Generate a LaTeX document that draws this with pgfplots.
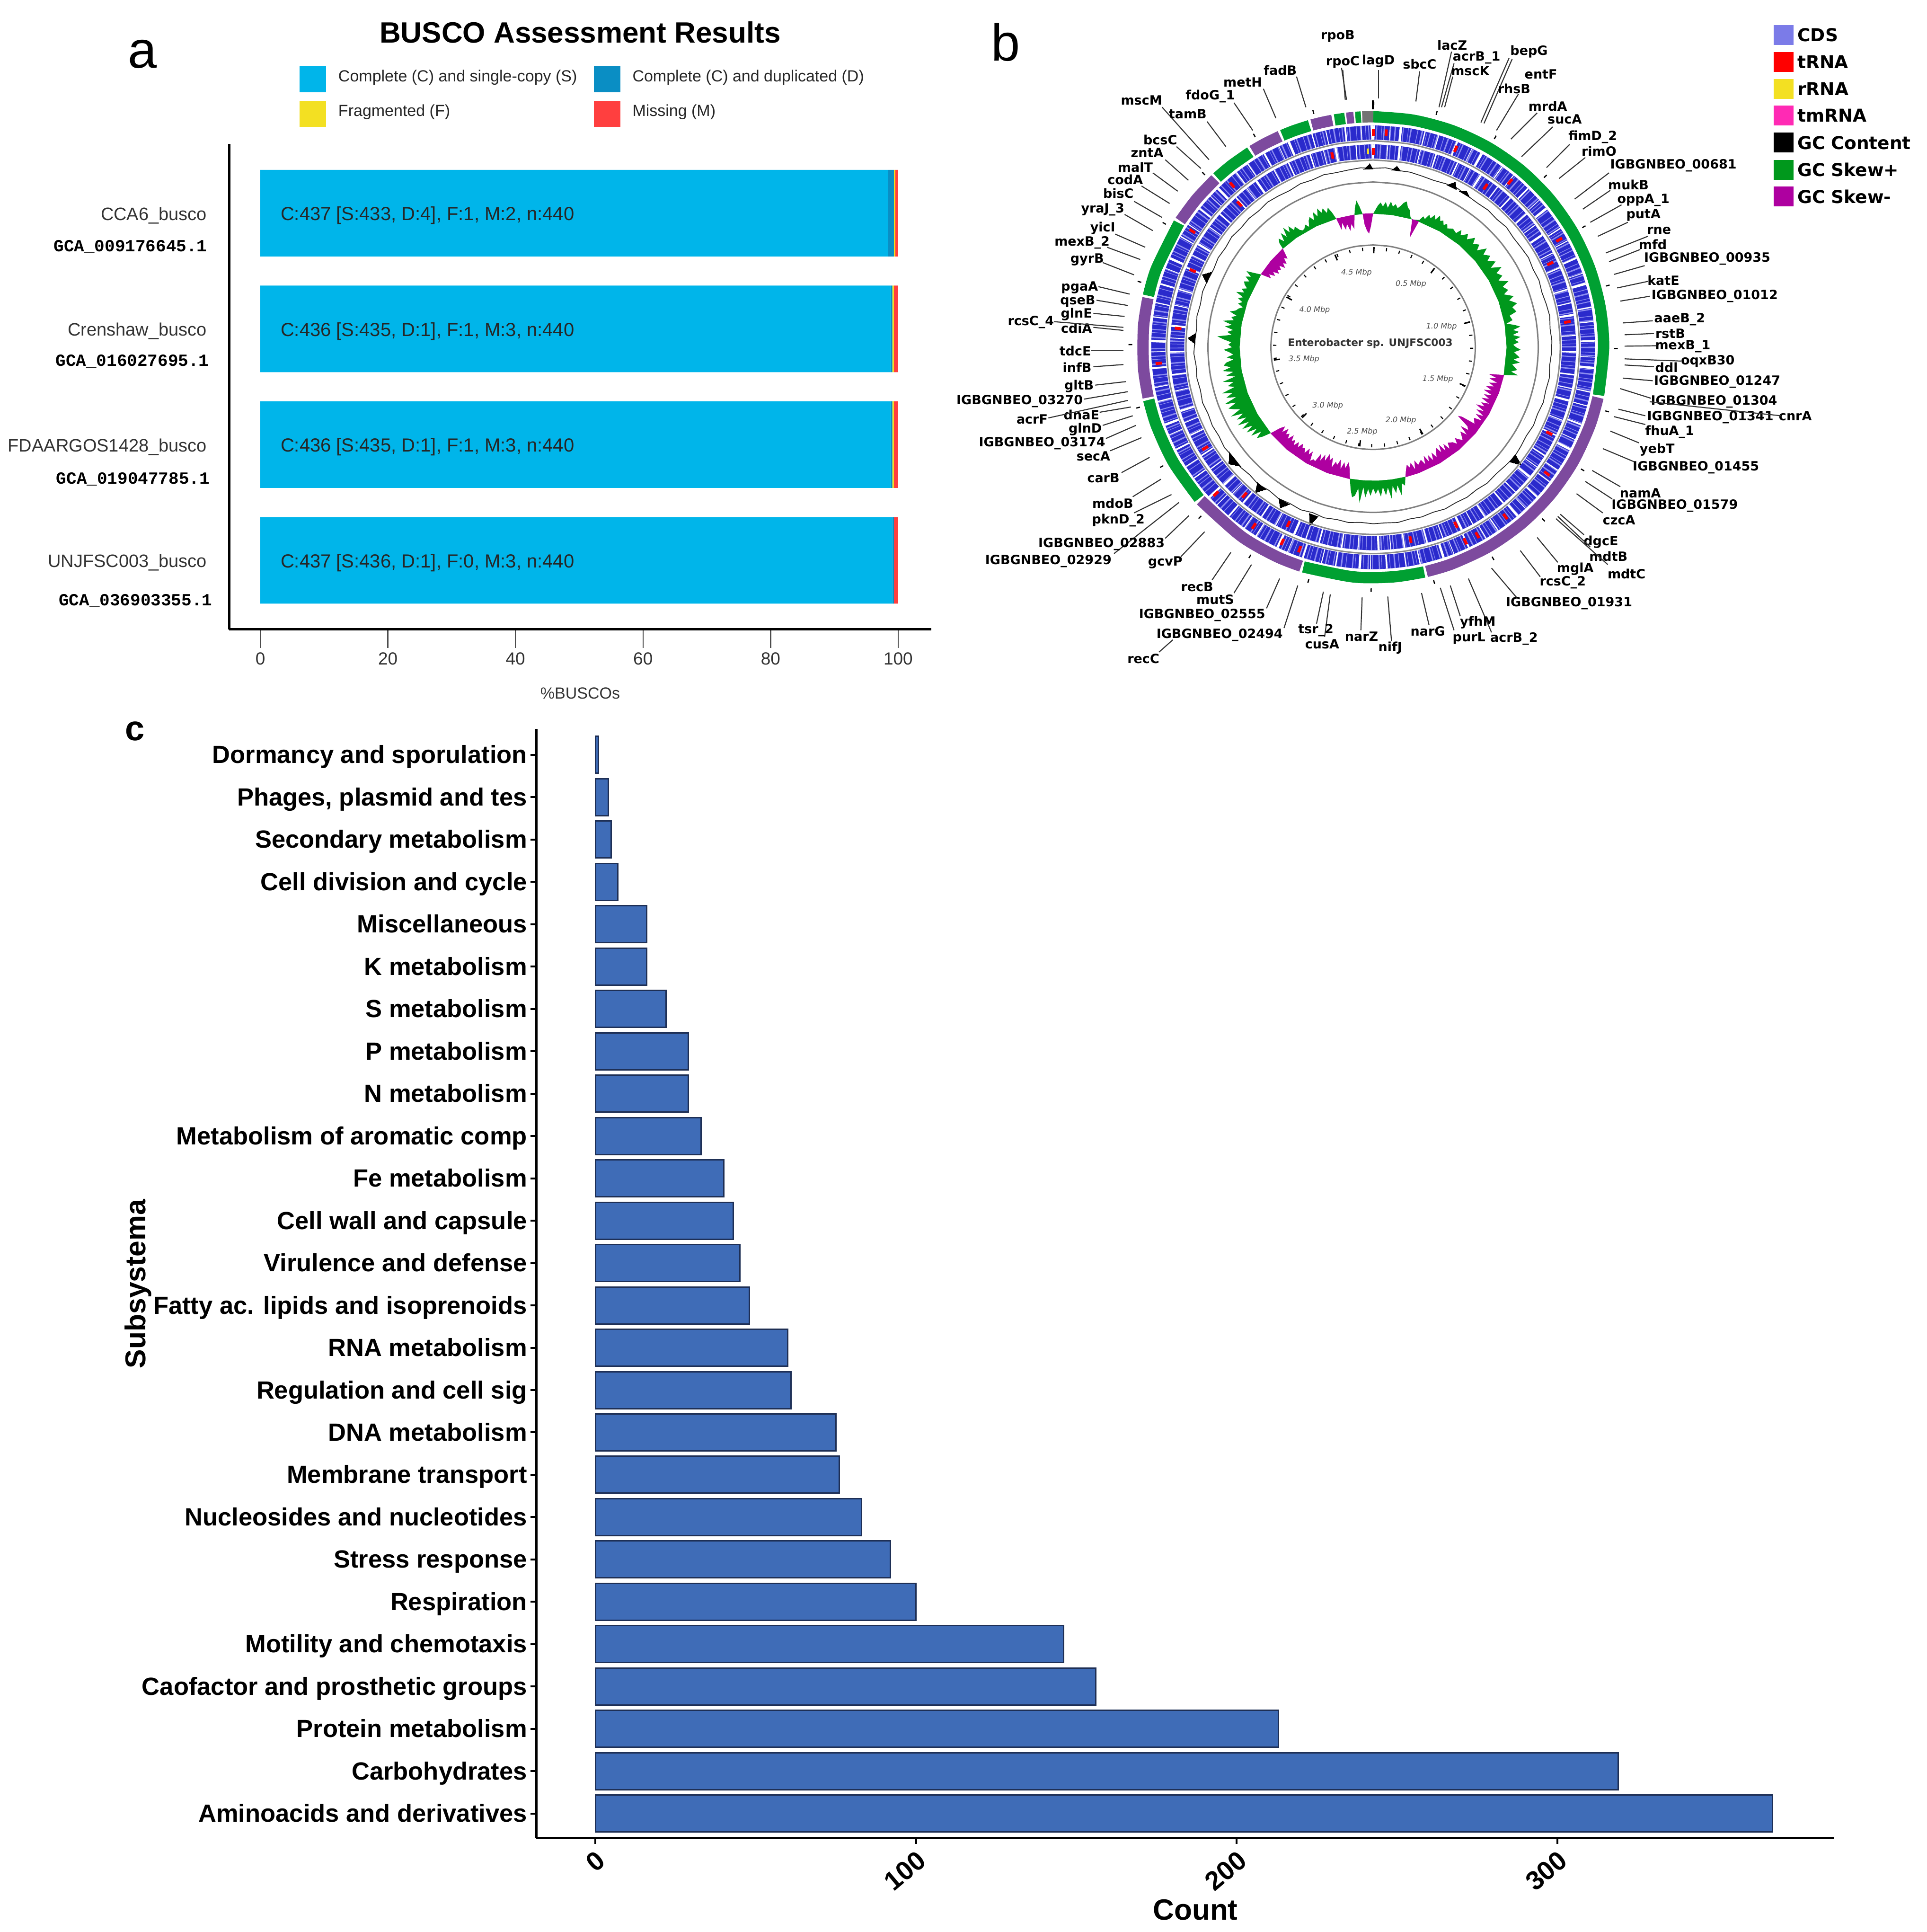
\documentclass[border=0pt]{standalone}
\usepackage{fontspec}
\usepackage{pgfplots}
\usepackage{pgfplotstable}
\pgfplotsset{compat=1.18}
\usepgfplotslibrary{polar}
\setmainfont{Liberation Sans}
\newfontfamily\dv{DejaVu Sans}
\newfontfamily\lmono{Liberation Mono}
\newcommand{\fs}[1]{\fontsize{#1}{#1}\selectfont}

\definecolor{buscoS}{HTML}{00B5EA}
\definecolor{buscoD}{HTML}{0A8EC4}
\definecolor{buscoF}{HTML}{F3E022}
\definecolor{buscoM}{HTML}{FF3F3F}
\definecolor{barblue}{HTML}{3F6CB7}
\definecolor{barline}{HTML}{1E2F55}
\definecolor{ringgreen}{HTML}{00A032}
\definecolor{ringpurple}{HTML}{7D4A9E}
\definecolor{skewgreen}{HTML}{00981C}
\definecolor{skewpurple}{HTML}{AE00A0}
\definecolor{cdsbase}{HTML}{7B7BE8}
\definecolor{cdsdark}{HTML}{2A2ACC}
\definecolor{cdslight}{HTML}{8C8CF0}
\definecolor{tmpink}{HTML}{FF2AB4}

\tikzset{
  bartext/.style={font=\fs{4},text=black!85,anchor=west,inner sep=0pt},
  gcatext/.style={font=\lmono\bfseries\fs{3.6},anchor=east,inner sep=0pt},
  genetext/.style={font=\dv\bfseries\fs{2.7},inner sep=0pt,anchor=center},
  outer/.style={line width=2.4pt,smooth},
}

% panel c
\pgfplotstableread{
pos count
1 367
2 319
3 213
4 156
5 146
6 100
7 92
8 83
9 76
10 75
11 61
12 60
13 48
14 45
15 43
16 40
17 33
18 29
19 29
20 22
21 16
22 16
23 7
24 5
25 4
26 1
}\subsys

% circles of panel b: clockwise angle, radii
\pgfplotstableread{
a c1 c2 g1 g2 g3 g4 t1 t2 t3
0 454 414 349 216 395.5 436 208 205 513
10 454 414 349 216 395.5 436 208 205 513
20 454 414 349 216 395.5 436 208 205 513
30 454 414 349 216 395.5 436 208 205 513
40 454 414 349 216 395.5 436 208 205 513
50 454 414 349 216 395.5 436 208 205 513
60 454 414 349 216 395.5 436 208 205 513
70 454 414 349 216 395.5 436 208 205 513
80 454 414 349 216 395.5 436 208 205 513
90 454 414 349 216 395.5 436 208 205 513
100 454 414 349 216 395.5 436 208 205 513
110 454 414 349 216 395.5 436 208 205 513
120 454 414 349 216 395.5 436 208 205 513
130 454 414 349 216 395.5 436 208 205 513
140 454 414 349 216 395.5 436 208 205 513
150 454 414 349 216 395.5 436 208 205 513
160 454 414 349 216 395.5 436 208 205 513
170 454 414 349 216 395.5 436 208 205 513
180 454 414 349 216 395.5 436 208 205 513
190 454 414 349 216 395.5 436 208 205 513
200 454 414 349 216 395.5 436 208 205 513
210 454 414 349 216 395.5 436 208 205 513
220 454 414 349 216 395.5 436 208 205 513
230 454 414 349 216 395.5 436 208 205 513
240 454 414 349 216 395.5 436 208 205 513
250 454 414 349 216 395.5 436 208 205 513
260 454 414 349 216 395.5 436 208 205 513
270 454 414 349 216 395.5 436 208 205 513
280 454 414 349 216 395.5 436 208 205 513
290 454 414 349 216 395.5 436 208 205 513
300 454 414 349 216 395.5 436 208 205 513
310 454 414 349 216 395.5 436 208 205 513
320 454 414 349 216 395.5 436 208 205 513
330 454 414 349 216 395.5 436 208 205 513
340 454 414 349 216 395.5 436 208 205 513
350 454 414 349 216 395.5 436 208 205 513
360 454 414 349 216 395.5 436 208 205 513
}\ringt

\newcommand{\redout}[1]{\addplot[red,line width=.6pt] coordinates {(#1,447) (#1,461)};}
\newcommand{\redin}[1]{\addplot[red,line width=.6pt] coordinates {(#1,407) (#1,421)};}
\newcommand{\gctri}[4]{\addplot[black,fill=black,line width=0pt] coordinates {(#1,376) (#2,#4) (#3,376)};}
% gene label with its leader line
\newcommand{\lab}[7]{\node[genetext] at (axis cs:#2,#3) {#1};
  \addplot[black!80,line width=.22pt] coordinates {(#4,#5) (#6,#7)};}
\newcommand{\mbp}[3]{\node[anchor=center,font=\dv\itshape\fs{1.6},text=black!70] at (axis cs:#2,#3) {#1 Mbp};}
\newcommand{\leg}[3]{\addplot[only marks,mark=square*,mark size=1.9pt,color=#1,mark options={draw=none}] coordinates {(1339,#3)};
  \node[anchor=west,font=\dv\bfseries\fs{3.75},inner sep=0pt] at (axis cs:1360,#3) {#2};}

\begin{document}
\begin{tikzpicture}
\path[use as bounding box] (0,0) rectangle (407.1pt,408.2pt);
\node[anchor=base,font=\fs{11}] at (30.1pt,393.8pt) {a};
\node[anchor=base,font=\fs{11}] at (212.5pt,395.3pt) {b};
\node[anchor=base,font=\bfseries\fs{7.4}] at (28.5pt,251.7pt) {c};

% panel a
\begin{axis}[
  at={(48.4pt,275.2pt)}, anchor=south west,
  scale only axis, width=148.4pt, height=102.6pt,
  xbar stacked, bar width=18.3pt,
  xmin=-4.9, xmax=105.2, ymin=0.403, ymax=4.599,
  axis x line=bottom, axis y line=left,
  axis line style={-,line width=.5pt},
  xtick={0,20,...,100}, ytick={1,2,3,4},
  yticklabels={UNJFSC003\_busco,FDAARGOS1428\_busco,Crenshaw\_busco,CCA6\_busco},
  tick align=outside, major tick length=3.9pt,
  xtick style={black!70,line width=.25pt}, ytick style={draw=none},
  /pgf/number format/assume math mode=true,
  xticklabel style={font=\fs{3.7},text=black!80,inner sep=.8pt},
  yticklabel style={font=\fs{3.8},text=black!80,inner xsep=.6pt,yshift=-.5pt},
  title={BUSCO Assessment Results},
  every axis title shift=0pt,
  title style={at={(0.5,1.23)},anchor=center,font=\bfseries\fs{6.2}},
  xlabel={\%BUSCOs},
  xlabel style={at={(0.5,-0.1316)},anchor=center,font=\fs{3.4},text=black!80},
  clip=false,
  legend columns=2,
  legend style={draw=none,fill=none,at={(0.1004,1.16)},anchor=north west,
    font=\fs{3.4},inner sep=0pt,outer sep=0pt,row sep=1.8pt,text=black!85,
    nodes={inner sep=0pt,outer sep=0pt},
    /tikz/every even column/.append style={column sep=3.5pt}},
  legend cell align=left,
  legend image code/.code={\fill[#1] (0pt,-2.75pt) rectangle (5.6pt,2.75pt);},
]
\addplot[fill=buscoS,draw=none] coordinates {(99.09,1) (98.86,2) (98.86,3) (98.41,4)};
\addplot[fill=buscoD,draw=none] coordinates {(0.23,1) (0.23,2) (0.23,3) (0.91,4)};
\addplot[fill=buscoF,draw=none] coordinates {(0,1) (0.23,2) (0.23,3) (0.23,4)};
\addplot[fill=buscoM,draw=none] coordinates {(0.68,1) (0.68,2) (0.68,3) (0.45,4)};
\legend{\hspace{2.6pt}Complete (C) and single-copy (S),\hspace{2.6pt}Complete (C) and duplicated (D),\hspace{2.6pt}Fragmented (F),\hspace{2.6pt}Missing (M)}
\node[gcatext] at (axis cs:-8.2,3.71) {GCA\_009176645.1};
\node[gcatext] at (axis cs:-7.9,2.72) {GCA\_016027695.1};
\node[gcatext] at (axis cs:-7.8,1.70) {GCA\_019047785.1};
\node[gcatext] at (axis cs:-7.4,0.65) {GCA\_036903355.1};
\end{axis}
\node[bartext] at (59.1pt,362.65pt) {C:437 [S:433, D:4], F:1, M:2, n:440};
\node[bartext] at (59.1pt,338.15pt) {C:436 [S:435, D:1], F:1, M:3, n:440};
\node[bartext] at (59.1pt,313.75pt) {C:436 [S:435, D:1], F:1, M:3, n:440};
\node[bartext] at (59.1pt,289.3pt) {C:437 [S:436, D:1], F:0, M:3, n:440};

% panel b, rings
\begin{polaraxis}[
  at={(290.15pt,334.83pt)}, anchor=center,
  scale only axis, width=120pt, height=120pt,
  xmin=0, xmax=360, ymin=0, ymax=600,
  hide axis, clip=false,
  x filter/.expression={90-x},
]
% GC skew of the inner track
\addplot[fill=skewgreen,draw=none] coordinates {
(0,282)(2,300)(3,306)(4,298)(5,308)(6,296)(7,310)(8,300)(9,306)(10,298)(11,304)(12,312)(13,316)(14,304)(15,300)(16,286)(17,282)(20,286)
(21,296)(22,292)(23,304)(24,298)(25,308)(26,300)(27,312)(28,302)(29,306)(30,298)(31,304)(32,296)(34,302)(36,298)(37,310)(38,300)
(40,312)(41,302)(43,316)(44,304)(46,312)(47,300)(49,318)(50,304)(52,314)(53,302)(55,316)(56,300)(58,320)(59,304)(61,312)(62,300)
(64,318)(65,302)(67,310)(68,298)(70,316)(71,304)(73,318)(74,306)(76,312)(77,296)(79,300)(80,286)(81,302)(82,314)(83,298)(84,310)
(85,296)(86,312)(87,300)(88,308)(89,296)(90,302)(91,312)(92,298)(94,310)(95,298)(96,312)(97,296)(99,308)(100,296)(101,312)(102,282)
(110,282)(120,282)(130,282)(140,282)(150,282)(160,282)
(166,282)(167,300)(168,294)(169,320)(170,296)(171,312)(172,296)(173,322)(174,298)(175,314)(176,296)(177,316)(178,300)(179,310)(180,298)(181,314)
(182,300)(183,318)(184,296)(185,330)(186,300)(187,316)(188,320)(189,304)(190,282)
(200,282)(210,282)(220,282)(230,282)
(231,300)(232,312)(233,296)(234,318)(235,300)(236,322)(237,304)(238,326)(239,306)(240,330)(241,306)(242,326)(243,308)(244,334)(245,310)(246,322)
(247,332)(248,312)(249,336)(250,308)(251,328)(252,312)(253,334)(254,304)(255,318)(256,304)(257,326)(258,298)(259,316)(260,300)(261,322)(262,304)
(263,318)(264,312)(265,296)(266,310)(267,296)(268,304)(269,316)(270,298)(271,306)(272,300)(273,316)(274,330)(275,300)(276,310)(277,298)(278,316)
(279,302)(280,322)(281,300)(282,306)(283,296)(284,312)(285,300)(286,296)(287,288)(288,300)(289,292)(290,304)(291,294)(292,312)(293,296)(294,304)
(295,294)(296,302)(297,306)(298,296)(299,308)(300,298)(301,312)(302,296)(303,282)
(310,282)(317.5,282)
(318,296)(319,304)(320,292)(321,310)(322,296)(323,316)(324,300)(325,312)(326,298)(327,304)(328,292)(329,288)(330,290)(331,296)(332,288)(333,300)
(334,306)(335,296)(336,312)(337,300)(338,316)(339,304)(340,312)(341,300)(342,310)(343,298)(344,282)
(348,282)(352,282)(352.5,296)(353.5,312)(354.5,298)(355.5,282)(360,282)};
\addplot[fill=skewpurple,draw=none] coordinates {(102,0)(102,283)(110,283)(120,283)(130,283)(140,283)(150,283)(160,283)(166,283)(166,0)};
\addplot[fill=skewpurple,draw=none] coordinates {(190,0)(190,283)(200,283)(210,283)(220,283)(230,283)(230,0)};
\addplot[fill=skewpurple,draw=none] coordinates {(303,0)(303,283)(310,283)(317.5,283)(317.5,0)};
\addplot[fill=skewpurple,draw=none] coordinates {(344,0)(344,283)(352,283)(352,0)};
\addplot[fill=skewpurple,draw=none] coordinates {(355.5,0)(355.5,283)(360,283)(360,0)};
\addplot[fill=skewpurple,draw=none] coordinates {(17,0)(17,283)(20,283)(20,0)};
\addplot[fill=white,draw=none] coordinates {
(0,282)(8,282)(16,282)(17,282)(18.5,243)(20,282)(30,282)(40,282)(50,282)(60,282)(70,282)(80,282)(90,282)(102,282)
(103,250)(104,268)(105,254)(106,272)(107,256)(108,268)(109,252)(110,266)(111,250)(112,270)(113,254)(114,268)(115,252)(116,272)(117,256)(118,266)
(119,248)(120,270)(121,254)(122,274)(123,258)(124,276)(125,260)(127,268)(128,238)(129,230)(130,260)(131,266)(132,248)(133,270)(134,256)(135,264)
(136,272)(137,266)(138,258)(139,270)(140,262)(142,256)(143,268)(144,252)(145,266)(146,248)(147,264)(148,250)(150,268)(151,254)(152,270)(153,256)
(154,268)(155,252)(156,270)(157,258)(159,266)(160,254)(161,272)(162,256)(163,266)(164,258)(165,268)(166,282)
(172,282)(178,282)(184,282)(190,282)
(191,260)(192,248)(193,262)(194,250)(195,266)(196,246)(197,260)(198,254)(199,268)(200,248)(201,256)(202,242)(203,260)(204,248)(205,264)(206,250)
(207,270)(208,268)(209,274)(210,254)(211,264)(212,252)(213,266)(214,256)(215,260)(216,252)(217,264)(218,254)(219,266)(220,256)(221,262)(222,250)
(223,264)(224,254)(225,260)(226,248)(227,262)(228,250)(229,260)(230,282)
(240,282)(250,282)(260,282)(270,282)(280,282)(290,282)(303,282)
(304,260)(305,268)(306,256)(307,264)(308,252)(309,260)(310,254)(311,262)(312,250)(313,260)(314,254)(315,266)(316,260)(317.5,282)
(325,282)(335,282)(344,282)
(345,256)(346,270)(347,254)(348,266)(349,250)(350,264)(351,252)(352,282)(355.5,282)
(356,260)(357,246)(358,240)(359,256)(360,282)};
\addplot[black!50,line width=.3pt,smooth] table[x=a,y=g2] {\ringt};
\addplot[black,line width=.7pt,dash pattern=on .22pt off 2.51pt,smooth] table[x=a,y=t1] {\ringt};
\addplot[black,line width=1.3pt,dash pattern=on .3pt off 13.1pt,smooth] table[x=a,y=t2] {\ringt};
% GC content
\addplot[black!50,line width=.3pt,smooth] table[x=a,y=g1] {\ringt};
\addplot[black!85,line width=.17pt] coordinates {
(0,378)(4,380)(8,377)(12,378)(16,376)(20,375)(24,378)(28,380)(32,377)(36,376)(40,378)(44,376)(48,379)(52,376)(56,377)(60,379)(64,376)(68,378)
(72,375)(76,377)(80,379)(84,376)(88,378)(92,377)(96,375)(100,378)(104,376)(108,378)(112,375)(116,377)(120,374)(124,376)(128,378)(132,375)
(136,373)(140,375)(144,372)(148,374)(152,372)(156,374)(160,371)(164,373)(168,371)(172,374)(176,372)(180,373)(184,371)(188,374)(192,372)(196,375)
(200,372)(204,376)(208,374)(212,377)(216,374)(220,378)(224,375)(228,378)(232,376)(236,379)(240,376)(244,378)(248,376)(252,379)(256,376)(260,378)
(264,376)(268,379)(272,377)(276,375)(280,378)(284,376)(288,379)(292,377)(296,375)(300,378)(304,376)(308,379)(312,376)(316,378)(320,376)(324,379)
(328,377)(332,375)(336,378)(340,376)(344,379)(348,377)(352,378)(356,380)(360,378)};
\gctri{24.5}{26.5}{28}{390}\gctri{29}{31}{33}{384}\gctri{127}{128.5}{130}{402}
\gctri{198}{199.5}{201}{400}\gctri{208}{210}{212}{392}\gctri{217}{219}{220.5}{396}
\gctri{228}{231}{234}{392}\gctri{271}{272.8}{274.5}{392}\gctri{291}{293}{295}{392}
\gctri{-3}{-1}{0}{388}\gctri{6}{7.5}{9}{386}
% CDS tracks
\addplot[black!45,line width=.3pt,smooth] table[x=a,y=g3] {\ringt};
\addplot[black!45,line width=.3pt,smooth] table[x=a,y=g4] {\ringt};
\addplot[cdsdark,line width=3pt,smooth] table[x=a,y=c1] {\ringt};
\addplot[cdslight,line width=3pt,smooth,dash pattern=on .12pt off .5pt on .2pt off .9pt on .1pt off .35pt on .25pt off 1.2pt on .14pt off .7pt on .3pt off .8pt] table[x=a,y=c1] {\ringt};
\addplot[white,line width=3pt,smooth,dash pattern=on .35pt off 3.1pt on .15pt off 1.9pt on .5pt off 4.6pt on .25pt off 2.7pt on .2pt off 3.7pt] table[x=a,y=c1] {\ringt};
\addplot[cdsdark,line width=3pt,smooth] table[x=a,y=c2] {\ringt};
\addplot[cdslight,line width=3pt,smooth,dash pattern=on .16pt off .7pt on .1pt off .4pt on .28pt off 1.1pt on .12pt off .55pt on .22pt off .9pt] table[x=a,y=c2] {\ringt};
\addplot[white,line width=3pt,smooth,dash pattern=on .3pt off 2.6pt on .18pt off 2.2pt on .45pt off 3.9pt on .2pt off 3.1pt on .3pt off 4.4pt] table[x=a,y=c2] {\ringt};
\redout{0}\redout{3.5}\redout{22.6}\redout{39.6}\redout{60}\redout{126}\redout{142}\redout{151}\redout{154.6}
\redout{200}\redout{205}\redout{213.7}\redout{227}\redout{265.7}\redout{302.7}\redout{319}
\redin{0}\redin{35}\redin{64.7}\redin{82.6}\redin{116}\redin{155}\redin{169}\redin{205.6}\redin{221}\redin{239}
\redin{275.5}\redin{293}\redin{317}\redin{348}
\addplot[buscoF,line width=.4pt] coordinates {(358.5,408) (358.5,420)};
% outer GC skew track
\addplot[ringgreen,outer] coordinates {(0,487)(10,487)(20,487)(30,487)(40,487)(50,487)(60,487)(70,487)(80,487)(90,487)(102,487)};
\addplot[ringpurple,outer] coordinates {(102.6,487)(110,487)(120,487)(130,487)(140,487)(150,487)(160,487)(166.6,487)};
\addplot[ringgreen,outer] coordinates {(167.2,487)(175,487)(185,487)(197.6,487)};
\addplot[ringpurple,outer] coordinates {(198.2,487)(205,487)(215,487)(228.4,487)};
\addplot[ringgreen,outer] coordinates {(229,487)(240,487)(250,487)(256.8,487)};
\addplot[ringpurple,outer] coordinates {(257.4,487)(265,487)(275,487)(282.3,487)};
\addplot[ringgreen,outer] coordinates {(282.9,487)(290,487)(302.6,487)};
\addplot[ringpurple,outer] coordinates {(303.2,487)(310,487)(316.8,487)};
\addplot[ringgreen,outer] coordinates {(317.4,487)(322,487)(327.8,487)};
\addplot[ringpurple,outer] coordinates {(328.4,487)(332,487)(336.2,487)};
\addplot[ringgreen,outer] coordinates {(336.8,487)(340,487)(344,487)};
\addplot[ringpurple,outer] coordinates {(344.6,487)(347,487)(349.8,487)};
\addplot[ringgreen,outer] coordinates {(350.4,487)(353,487)};
\addplot[ringpurple,outer] coordinates {(353.4,487)(355.2,487)};
\addplot[ringgreen,outer] coordinates {(355.6,487)(357,487)};
\addplot[black!55,outer] coordinates {(357.3,487)(358.6,487)(360,487)};
\addplot[black,line width=.8pt,dash pattern=on .25pt off 13.2pt,smooth] table[x=a,y=t3] {\ringt};
\addplot[black,line width=.5pt] coordinates {(0,503) (0,522)};
\end{polaraxis}

% panel b, labels and leader lines
\begin{axis}[
  at={(200pt,263.2pt)}, anchor=south west,
  scale only axis, width=207.1pt, height=145pt,
  xmin=0, xmax=1568, ymin=0, ymax=1568, y dir=reverse,
  hide axis, clip=false,
]
\lab{rpoB}{626}{83}{632}{155}{640}{228}
\lab{rpoC}{634}{142}{634}{160}{638}{228}
\lab{lagD}{691}{140}{691}{160}{691}{225}
\lab{sbcC}{757}{147}{757}{163}{751}{232}
\lab{lacZ}{809}{103}{808}{118}{788}{245}
\lab{acrB\_1}{848}{132}{812}{145}{792}{245}
\lab{mscK}{838}{162}{810}{175}{797}{245}
\lab{bepG}{932}{118}{900}{133}{855}{280}
\lab{entF}{951}{170}{905}{135}{860}{282}
\lab{rhsB}{908}{203}{915}{215}{880}{298}
\lab{mrdA}{962}{243}{945}{258}{903}{318}
\lab{sucA}{989}{272}{970}{290}{920}{358}
\lab{fimD\_2}{1034}{313}{997}{330}{960}{383}
\lab{rimO}{1044}{346}{1022}{360}{980}{408}
\lab{IGBGNBEO\_00681}{1163}{378}{1060}{395}{1005}{455}
\lab{mukB}{1091}{422}{1062}{435}{1018}{478}
\lab{oppA\_1}{1115}{457}{1080}{468}{1030}{508}
\lab{putA}{1115}{492}{1090}{508}{1042}{540}
\lab{rne}{1140}{527}{1122}{540}{1055}{578}
\lab{mfd}{1130}{559}{1110}{570}{1060}{598}
\lab{IGBGNBEO\_00935}{1217}{591}{1117}{607}{1068}{627}
\lab{katE}{1147}{641}{1122}{643}{1073}{658}
\lab{IGBGNBEO\_01012}{1229}{677}{1125}{677}{1078}{688}
\lab{aaeB\_2}{1173}{730}{1130}{733}{1082}{738}
\lab{rstB}{1158}{762}{1132}{762}{1085}{765}
\lab{mexB\_1}{1178}{791}{1135}{790}{1085}{791}
\lab{oqxB30}{1218}{826}{1175}{825}{1085}{820}
\lab{ddl}{1152}{840}{1132}{838}{1085}{834}
\lab{IGBGNBEO\_01247}{1233}{872}{1130}{870}{1082}{864}
\lab{IGBGNBEO\_01304}{1228}{918}{1127}{910}{1078}{888}
\lab{IGBGNBEO\_01341}{1222}{953}{1118}{950}{1075}{935}
\lab{cnrA}{1358}{950}{1335}{950}{1125}{918}
\lab{fhuA\_1}{1157}{987}{1118}{970}{1068}{952}
\lab{yebT}{1137}{1028}{1108}{1012}{1062}{985}
\lab{IGBGNBEO\_01455}{1199}{1068}{1100}{1055}{1050}{1025}
\lab{namA}{1110}{1127}{1078}{1112}{1033}{1075}
\lab{IGBGNBEO\_01579}{1165}{1156}{1065}{1140}{1022}{1100}
\lab{czcA}{1076}{1188}{1050}{1172}{1008}{1128}
\lab{dgcE}{1047}{1238}{1020}{1222}{982}{1175}
\lab{mdtB}{1059}{1271}{1030}{1250}{978}{1180}
\lab{mdtC}{1088}{1311}{1058}{1290}{975}{1185}
\lab{mglA}{1006}{1300}{978}{1285}{945}{1228}
\lab{rcsC\_2}{986}{1331}{950}{1318}{918}{1258}
\lab{IGBGNBEO\_01931}{996}{1378}{912}{1365}{872}{1298}
\lab{acrB\_2}{908}{1460}{872}{1445}{835}{1322}
\lab{yfhM}{850}{1422}{822}{1408}{806}{1338}
\lab{purL}{836}{1458}{812}{1440}{790}{1343}
\lab{narG}{770}{1442}{772}{1428}{760}{1355}
\lab{nifJ}{710}{1480}{712}{1465}{706}{1363}
\lab{narZ}{664}{1454}{663}{1440}{665}{1365}
\lab{cusA}{601}{1472}{605}{1455}{614}{1358}
\lab{tsr\_2}{591}{1440}{592}{1425}{603}{1352}
\lab{recC}{315}{1505}{340}{1490}{362}{1462}
\lab{IGBGNBEO\_02494}{437}{1451}{540}{1435}{562}{1338}
\lab{IGBGNBEO\_02555}{409}{1405}{512}{1390}{533}{1322}
\lab{mutS}{430}{1370}{460}{1355}{488}{1290}
\lab{recB}{401}{1341}{425}{1325}{455}{1262}
\lab{gcvP}{350}{1285}{375}{1272}{413}{1215}
\lab{IGBGNBEO\_02929}{163}{1282}{268}{1265}{372}{1148}
\lab{IGBGNBEO\_02883}{248}{1243}{350}{1230}{388}{1178}
\lab{pknD\_2}{275}{1189}{300}{1172}{360}{1130}
\lab{mdoB}{266}{1150}{298}{1135}{343}{1095}
\lab{carB}{251}{1092}{280}{1080}{325}{1045}
\lab{secA}{235}{1042}{262}{1030}{312}{1000}
\lab{IGBGNBEO\_03174}{153}{1013}{255}{1002}{303}{972}
\lab{glnD}{222}{981}{250}{972}{298}{950}
\lab{dnaE}{216}{948}{245}{942}{295}{930}
\lab{acrF}{137}{958}{163}{955}{290}{915}
\lab{IGBGNBEO\_03270}{117}{917}{220}{912}{290}{895}
\lab{gltB}{212}{883}{238}{880}{287}{872}
\lab{infB}{209}{840}{235}{838}{283}{833}
\lab{tdcE}{206}{802}{232}{800}{283}{800}
\lab{cdiA}{208}{750}{235}{748}{283}{755}
\lab{rcsC\_4}{135}{736}{172}{735}{283}{748}
\lab{glnE}{208}{718}{235}{716}{285}{723}
\lab{qseB}{210}{688}{240}{686}{290}{698}
\lab{pgaA}{213}{657}{243}{655}{293}{672}
\lab{gyrB}{225}{593}{250}{600}{300}{628}
\lab{mexB\_2}{217}{554}{257}{565}{310}{593}
\lab{yicI}{250}{522}{270}{535}{318}{565}
\lab{yraJ\_3}{250}{479}{285}{490}{330}{527}
\lab{bisC}{275}{442}{300}{460}{345}{497}
\lab{codA}{286}{410}{312}{425}{357}{465}
\lab{malT}{302}{382}{330}{395}{370}{437}
\lab{zntA}{321}{349}{350}{365}{387}{412}
\lab{bcsC}{342}{320}{368}{335}{407}{385}
\lab{mscM}{312}{229}{345}{245}{420}{365}
\lab{tamB}{386}{261}{417}{278}{447}{335}
\lab{fdoG\_1}{422}{220}{460}{235}{490}{298}
\lab{metH}{474}{188}{507}{203}{527}{270}
\lab{fadB}{534}{161}{560}{175}{575}{245}
\node[anchor=center,font=\dv\bfseries\fs{2.16},text=black!80] at (axis cs:678,785) {Enterobacter sp. UNJFSC003};
\mbp{4.5}{656}{623}\mbp{0.5}{743}{649}\mbp{4.0}{589}{708}\mbp{1.0}{792}{746}\mbp{3.5}{572}{821}
\mbp{1.5}{786}{866}\mbp{3.0}{610}{927}\mbp{2.0}{727}{960}\mbp{2.5}{665}{986}
\leg{cdsbase}{CDS}{80}
\leg{red}{tRNA}{142}
\leg{buscoF}{rRNA}{203}
\leg{tmpink}{tmRNA}{264}
\leg{black}{GC Content}{326}
\leg{skewgreen}{GC Skew+}{388}
\leg{skewpurple}{GC Skew-}{449}
\end{axis}

% panel c
\begin{axis}[
  at={(113.33pt,19.85pt)}, anchor=south west,
  scale only axis, width=274.27pt, height=234.35pt,
  xbar, bar width=7.8pt,
  xmin=-18.4, xmax=386.3, ymin=0.421, ymax=26.615,
  axis x line=bottom, axis y line=left,
  axis line style={-,line width=.45pt},
  xtick={0,100,200,300},
  ytick={1,...,26},
  yticklabels={Aminoacids and derivatives,Carbohydrates,Protein metabolism,Caofactor and prosthetic groups,
    Motility and chemotaxis,Respiration,Stress response,Nucleosides and nucleotides,Membrane transport,
    DNA metabolism,Regulation and cell sig,RNA metabolism,{Fatty ac. lipids and isoprenoids},Virulence and defense,
    Cell wall and capsule,Fe metabolism,Metabolism of aromatic comp,N metabolism,P metabolism,S metabolism,
    K metabolism,Miscellaneous,Cell division and cycle,Secondary metabolism,{Phages, plasmid and tes},Dormancy and sporulation},
  tick align=outside, major tick length=1.25pt,
  tick style={black,line width=.4pt},
  /pgf/number format/assume math mode=true,
  yticklabel style={font=\bfseries\fs{5.25},inner xsep=.5pt,text height=3.9pt,text depth=1.1pt,yshift=-.4pt},
  xticklabel style={font=\bfseries\fs{5.6},rotate=40,anchor=north east,inner sep=0pt,xshift=-.6pt,yshift=-.65pt},
  xlabel={Count}, ylabel={Subsystema},
  xlabel style={at={(0.5078,-0.0646)},anchor=center,font=\bfseries\fs{6.2}},
  ylabel style={at={(-0.3068,0.4996)},anchor=center,rotate=0,font=\bfseries\fs{6.06}},
  clip=false,
]
\addplot[fill=barblue,draw=barline,line width=.3pt] table[x=count,y=pos] {\subsys};
\end{axis}
\end{tikzpicture}
\end{document}
